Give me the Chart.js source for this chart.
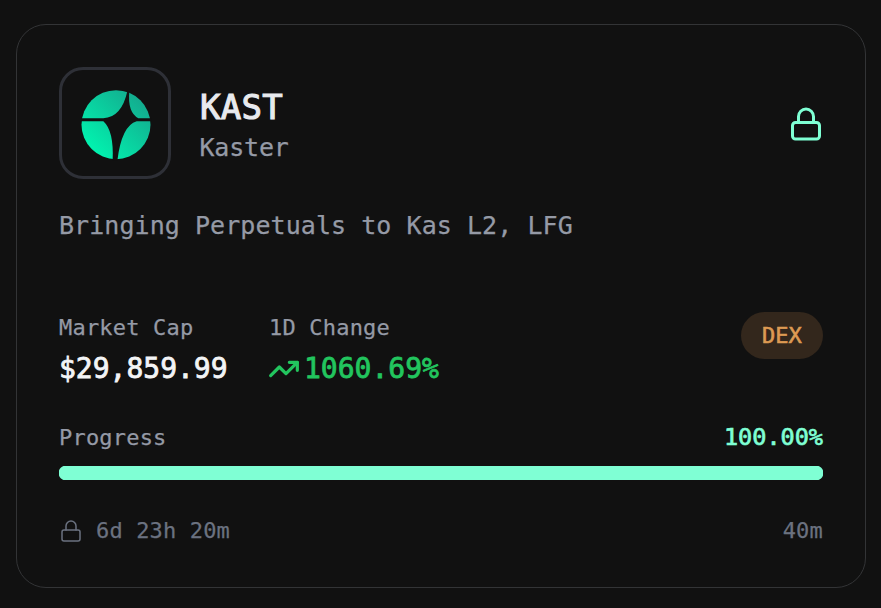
<!DOCTYPE html>
<html><head><meta charset="utf-8">
<script src="https://cdn.jsdelivr.net/npm/chart.js@4"></script>
<style>
html,body{margin:0;padding:0;background:#111111;width:881px;height:608px;overflow:hidden}
body{position:relative;font-family:"DejaVu Sans Mono",monospace;}
.t{position:absolute;white-space:pre;line-height:1;}
#card{position:absolute;left:16px;top:24px;width:848px;height:562px;border:1px solid #333436;border-radius:30px;box-sizing:content-box}
#box{position:absolute;left:59px;top:67px;width:106px;height:106px;border:3px solid #2e3037;border-radius:24px;box-sizing:content-box}
#pill{position:absolute;left:741px;top:312px;width:82px;height:47px;border-radius:24px;background:#33271c}
svg{position:absolute}
#barwrap{position:absolute;left:59px;top:466px;width:764px;height:14px}
</style></head><body>
<div id="card"></div><div id="box"></div>
<svg style="left:76px;top:84px" width="80" height="80" viewBox="0 0 240 240">
<defs><linearGradient id="g" x1="0" y1="1" x2="1" y2="0"><stop offset="0.1" stop-color="#00f7b1"/><stop offset="0.9" stop-color="#14a88d"/></linearGradient></defs>
<g transform="translate(-108,-100)">
<circle cx="228" cy="222" r="103.5" fill="url(#g)"/>
<path d="M120,203 L190,203 Q245,200 262,122 L268,122 Q262,185 295,203 L335,203 L335,212 L290,212 Q245,225 232,330 L218,330 Q222,240 190,212 L120,212 Z" fill="#111111"/>
</g></svg>
<svg style="left:788px;top:106px" width="36" height="36" viewBox="0 0 24 24" fill="none" stroke="#7fffd4" stroke-width="2" stroke-linecap="round" stroke-linejoin="round"><rect x="3" y="11" width="18" height="11" rx="2" ry="2"/><path d="M7 11V7a5 5 0 0 1 10 0v4"/></svg>
<svg style="left:267.7px;top:352.7px" width="32" height="32" viewBox="0 0 24 24" fill="none" stroke="#22c55e" stroke-width="2.4" stroke-linecap="round" stroke-linejoin="round"><polyline points="22 7 13.5 15.5 8.5 10.5 2 17"/><polyline points="16 7 22 7 22 13"/></svg>
<svg style="left:58.5px;top:518.5px" width="24" height="24" viewBox="0 0 24 24" fill="none" stroke="#6b7280" stroke-width="1.5" stroke-linecap="round" stroke-linejoin="round"><rect x="3" y="11" width="18" height="11" rx="2" ry="2"/><path d="M7 11V7a5 5 0 0 1 10 0v4"/></svg>
<div id="pill"></div>
<div id="barwrap"><canvas id="c" width="764" height="14"></canvas></div>
<script>
const categories = ["Progress"];
const progressValues = [100];
const progressMax = 100;
const symbol = "KAST", tokenName = "Kaster", tagline = "Bringing Perpetuals to Kas L2, LFG";
const marketCapLabel = "Market Cap", marketCap = "$29,859.99";
const changeLabel = "1D Change", change = "1060.69%";
const venue = "DEX", timeLeft = "6d 23h 20m", duration = "40m";

function text(s, opt){
  const d = document.createElement('div'); d.className='t'; d.textContent=s;
  d.style.fontSize=opt.size+'px'; d.style.color=opt.color; d.style.top=(opt.base-opt.size*0.76)+'px';
  if(opt.left!=null) d.style.left=opt.left+'px'; if(opt.right!=null) d.style.right=opt.right+'px';
  if(opt.ls) d.style.letterSpacing=opt.ls+'px';
  if(opt.stroke) d.style.webkitTextStroke=opt.stroke+'px '+opt.color;
  document.body.appendChild(d);
}
const muted = "#959aa6", dim = "#6b7280";
text(symbol,{left:200,base:116,size:34,color:"#e8eaee",stroke:1.1,ls:0.3});
text(tokenName,{left:199.5,base:153.5,size:25,color:muted,stroke:0.25,ls:-0.2});
text(tagline,{left:59,base:232,size:25,color:muted,ls:0.06,stroke:0.25});
text(marketCapLabel,{left:59,base:334,size:22,color:muted,ls:0.2,stroke:0.25});
text(marketCap,{left:59,base:376,size:28,color:"#f3f4f6",stroke:0.8});
text(changeLabel,{left:269,base:334,size:22,color:muted,ls:0.2,stroke:0.25});
text(change,{left:304,base:376,size:28,color:"#22c55e",stroke:0.8});
text(venue,{left:762,base:342,size:22,color:"#dd9a53",stroke:0.6});
text(categories[0],{left:59,base:444,size:22,color:muted,ls:0.2,stroke:0.25});
text(progressValues[0].toFixed(2)+"%",{right:58,base:444,size:23.5,color:"#7fffd4",stroke:0.7});
text(timeLeft,{left:96,base:536.5,size:22,color:dim,ls:0.15,stroke:0.25});
text(duration,{right:58,base:536.5,size:22,color:dim,ls:0.2,stroke:0.25});

new Chart(document.getElementById('c'),{
  type:'bar',
  data:{labels:categories,datasets:[{data:progressValues,backgroundColor:"#7fffd4",borderRadius:7,borderSkipped:false,barPercentage:1,categoryPercentage:1}]},
  options:{indexAxis:'y',responsive:false,animation:false,devicePixelRatio:1,
    layout:{padding:0},
    plugins:{legend:{display:false},tooltip:{enabled:false},title:{display:false}},
    scales:{x:{display:false,min:0,max:progressMax},y:{display:false}}}
});
</script>
</body></html>
